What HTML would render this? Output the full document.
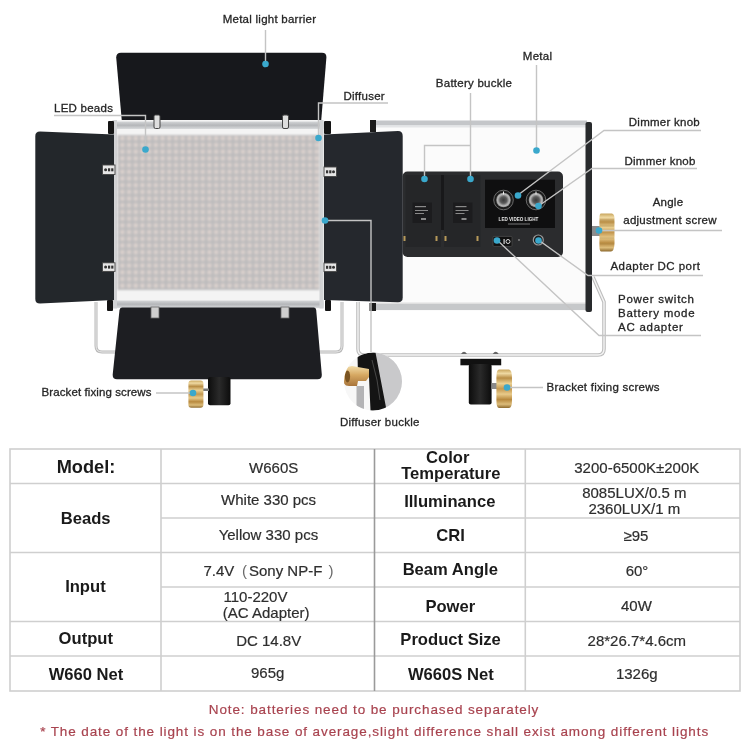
<!DOCTYPE html>
<html><head><meta charset="utf-8">
<style>
html,body{margin:0;padding:0;background:#fff;}
body{width:750px;height:750px;overflow:hidden;position:relative;font-family:"Liberation Sans",sans-serif;}
svg{position:absolute;left:0;top:0;will-change:transform;}
.lb{font-family:"Liberation Sans",sans-serif;font-size:11.5px;letter-spacing:0.25px;fill:#262626;stroke:#262626;stroke-width:0.3px;}
.th{font-family:"Liberation Sans",sans-serif;font-size:16.6px;font-weight:bold;fill:#1a1a1a;}
.td{font-family:"Liberation Sans",sans-serif;font-size:15px;fill:#2e2e2e;stroke:#2e2e2e;stroke-width:0.2px;}
.nt{font-family:"Liberation Sans",sans-serif;font-size:13.5px;letter-spacing:0.9px;fill:#a8434f;stroke:#a8434f;stroke-width:0.2px;}
</style></head>
<body>
<svg width="750" height="750" viewBox="0 0 750 750">
<defs>
  <filter id="bl" x="-5%" y="-5%" width="110%" height="110%"><feGaussianBlur stdDeviation="0.9"/></filter>
  <pattern id="led" x="119" y="135" width="6.7" height="6.7" patternUnits="userSpaceOnUse">
    <rect width="6.7" height="6.7" fill="#bdbcbd"/>
    <circle cx="3.35" cy="3.35" r="2.3" fill="#dbd1cd"/>
  </pattern>
  <linearGradient id="silverH" x1="0" y1="0" x2="0" y2="1">
    <stop offset="0" stop-color="#d4d6d8"/><stop offset="0.5" stop-color="#b4b6b9"/><stop offset="1" stop-color="#d8dadc"/>
  </linearGradient>
  <linearGradient id="gold" x1="0" y1="0" x2="0" y2="1">
    <stop offset="0" stop-color="#c9a65e"/><stop offset="0.1" stop-color="#efd9a2"/><stop offset="0.22" stop-color="#b98e46"/><stop offset="0.36" stop-color="#ead092"/><stop offset="0.5" stop-color="#c49850"/><stop offset="0.64" stop-color="#e8ca8a"/><stop offset="0.78" stop-color="#b8893e"/><stop offset="0.9" stop-color="#dcbc7a"/><stop offset="1" stop-color="#8e6a2e"/>
  </linearGradient>
  <linearGradient id="cyl" x1="0" y1="0" x2="1" y2="0">
    <stop offset="0" stop-color="#0c0c0c"/><stop offset="0.5" stop-color="#2a2a2a"/><stop offset="1" stop-color="#0c0c0c"/>
  </linearGradient>
  <radialGradient id="knob" cx="0.5" cy="0.5" r="0.5">
    <stop offset="0" stop-color="#3a3a3a"/><stop offset="0.45" stop-color="#5a5a5a"/><stop offset="0.8" stop-color="#b8b8b8"/><stop offset="1" stop-color="#8a8a8a"/>
  </radialGradient>
  <linearGradient id="gold2" x1="0" y1="0" x2="0" y2="1">
    <stop offset="0" stop-color="#f2dca8"/><stop offset="0.45" stop-color="#d6a862"/><stop offset="1" stop-color="#a8743a"/>
  </linearGradient>
</defs>

<!-- ============ BACK PANEL (right) ============ -->
<g id="back">
  <!-- bracket back -->
  <path d="M358,302 L358,349 Q358,355 364,355 L598,355 Q604,355 604,349 L604,302 L593,277" fill="none" stroke="#bdbdbd" stroke-width="3.6"/>
  <path d="M358,302 L358,349 Q358,355 364,355 L598,355 Q604,355 604,349 L604,302 L593,277" fill="none" stroke="#f4f4f4" stroke-width="1.4"/>
  <!-- body -->
  <rect x="371" y="121" width="218" height="190" fill="#fbfbfb"/>
  <rect x="371" y="120.5" width="216" height="5" fill="#c4c6c9"/>
  <rect x="371" y="125.5" width="216" height="2" fill="#e4e5e7"/>
  <rect x="371" y="304" width="216" height="6" fill="#c6c8ca"/>
  <rect x="371" y="302.5" width="216" height="1.5" fill="#e0e0e0"/>
  <rect x="370" y="120" width="6" height="12" fill="#1a1a1a"/>
  <rect x="369.5" y="303" width="6.5" height="8" fill="#1a1a1a"/>
  <rect x="585.5" y="122" width="6.5" height="190" rx="2" fill="#282a2c"/>
  <!-- control panel -->
  <rect x="402.5" y="171.5" width="160.5" height="85.5" rx="5" fill="#2b2c2e"/>
  <rect x="405.5" y="175" width="35.5" height="72" fill="#252628"/>
  <rect x="444" y="175" width="36.5" height="72" fill="#252628"/>
  <rect x="441" y="175" width="3" height="55" fill="#18181a"/>
  <rect x="412.5" y="202.5" width="19.5" height="20.5" fill="#1c1c1e"/>
  <rect x="453" y="202.5" width="19.5" height="20.5" fill="#1c1c1e"/>
  <g fill="#8a8a8a"><rect x="415" y="206" width="11" height="1.2"/><rect x="415" y="210" width="13" height="1"/><rect x="415" y="213" width="9" height="1"/><rect x="421" y="218" width="5" height="2"/>
  <rect x="455.5" y="206" width="11" height="1.2"/><rect x="455.5" y="210" width="13" height="1"/><rect x="455.5" y="213" width="9" height="1"/><rect x="461.5" y="218" width="5" height="2"/></g>
  <g fill="#b89a5a"><rect x="403.5" y="236" width="2" height="5"/><rect x="435.5" y="236" width="2" height="5"/><rect x="444.5" y="236" width="2" height="5"/><rect x="476.5" y="236" width="2" height="5"/></g>
  <rect x="485" y="179.7" width="70" height="48.3" fill="#0f0f10"/>
  <circle cx="503.5" cy="200" r="9.8" fill="#1c1c1c" stroke="#6a6a6a" stroke-width="1"/>
  <circle cx="503.5" cy="200" r="7.3" fill="url(#knob)"/>
  <rect x="503" y="191.5" width="1" height="3" fill="#eee"/>
  <circle cx="536" cy="200" r="9.8" fill="#1c1c1c" stroke="#6a6a6a" stroke-width="1"/>
  <circle cx="536" cy="200" r="7.3" fill="url(#knob)"/>
  <rect x="535.5" y="191.5" width="1" height="3" fill="#eee"/>
  <text x="518.5" y="221" font-size="4.6" font-weight="bold" fill="#e6e6e6" text-anchor="middle" font-family="Liberation Sans">LED VIDEO LIGHT</text>
  <rect x="508" y="223.5" width="22" height="1" fill="#777"/>
  <rect x="493" y="236.4" width="19" height="10" rx="1" fill="#101010" stroke="#4a4a4a" stroke-width="0.8"/>
  <rect x="503.5" y="239" width="1.2" height="5" fill="#d8d8d8"/>
  <circle cx="508" cy="241.5" r="2" fill="none" stroke="#d8d8d8" stroke-width="1"/>
  <circle cx="519" cy="240" r="0.9" fill="#888"/>
  <circle cx="538.3" cy="240" r="5" fill="#1a1a1a" stroke="#9a9a9a" stroke-width="1.2"/>
  <!-- angle knob -->
  <rect x="592" y="226" width="8" height="10" fill="#8c8c8c"/>
  <path d="M601,213.6 L612,213.6 Q615,214 614.5,222 L614.5,244 Q614,251.4 611,251.4 L601,251.4 Q599.4,251 599.4,246 L599.4,219 Q599.4,213.6 601,213.6 Z" fill="url(#gold)"/>
  <g stroke="#a58546" stroke-width="0.6" opacity="0.7"><path d="M600,220 L614,220 M600,226 L614,226 M600,238 L614,238 M600,244 L614,244"/></g>
  <!-- mount -->
  <path d="M461,354 Q464,349.5 467,354 Z" fill="#666"/>
  <path d="M492.7,354 Q495.7,349.5 498.7,354 Z" fill="#666"/>
  <rect x="460.4" y="358.8" width="40.8" height="6.5" fill="#111"/>
  <rect x="468.8" y="364" width="22.8" height="40.4" rx="2" fill="url(#cyl)"/>
  <rect x="491.5" y="383" width="6" height="6" fill="#8a8a8a"/>
  <path d="M499,369.6 L509,369.6 Q512,370 512,378 L512,400 Q512,408 509,408 L499,408 Q496.4,408 496.4,400 L496.4,378 Q496.4,369.6 499,369.6 Z" fill="url(#gold)"/>
</g>

<!-- ============ FRONT PANEL (left) ============ -->
<g id="front">
  <!-- bracket front -->
  <path d="M96,302 L96,346 Q96,352 102,352 L336,352 Q342,352 342,346 L342,302" fill="none" stroke="#b8b8b8" stroke-width="3"/>
  <path d="M96,302 L96,346 Q96,352 102,352 L336,352 Q342,352 342,346 L342,302" fill="none" stroke="#ededed" stroke-width="1"/>
  <!-- top barn door -->
  <path d="M116.2,57.5 Q116.2,52.7 121,52.7 L322,52.7 Q326.6,52.7 326.4,57.5 L321,123 L122,123 Z" fill="#17181c"/>
  <!-- frame -->
  <rect x="112.5" y="120" width="211" height="188.5" fill="#f4f4f4"/>
  <rect x="112.5" y="121.5" width="211" height="7.5" fill="url(#silverH)"/>
  <rect x="112.5" y="300.5" width="211" height="7.5" fill="url(#silverH)"/>
  <rect x="112.5" y="120" width="4.5" height="188.5" fill="#d2d3d5"/>
  <rect x="319.5" y="120" width="4" height="188.5" fill="#d2d3d5"/>
  <rect x="117.5" y="135" width="202" height="155" fill="url(#led)" filter="url(#bl)"/>
  <!-- knobs -->
  <rect x="108" y="121" width="6" height="13" rx="1" fill="#141414"/>
  <rect x="324" y="121" width="7" height="13" rx="1" fill="#141414"/>
  <rect x="107" y="300" width="6" height="11" rx="1" fill="#141414"/>
  <rect x="325" y="300" width="6" height="11" rx="1" fill="#141414"/>
  <!-- left barn door -->
  <path d="M40,131.5 L114,134.5 L114,300 L40,303.5 Q35.3,303.5 35.3,299 L35.3,136 Q35.3,131.5 40,131.5 Z" fill="#23272b"/>
  <!-- right barn door -->
  <path d="M324,134.5 L398,131 Q402.7,131 402.7,136 L402.7,297.5 Q402.7,302.3 398,302.3 L324,300 Z" fill="#25282d"/>
  <!-- bottom barn door -->
  <path d="M122,307.5 L314,307.5 Q316,307.5 316.2,310 L321.8,374.5 Q322,379.3 317.5,379.3 L117,379.3 Q112.5,379.3 112.7,374.5 L119.5,310 Q119.8,307.5 122,307.5 Z" fill="#1d1e22"/>
  <!-- hinges -->
  <rect x="154" y="115" width="6" height="13.5" rx="1.5" fill="#dedede" stroke="#444" stroke-width="1"/>
  <rect x="282.5" y="115" width="6" height="13.5" rx="1.5" fill="#dedede" stroke="#444" stroke-width="1"/>
  <g stroke="#444" stroke-width="0.9" fill="#e6e6e6">
    <rect x="102.5" y="165" width="12.5" height="9.5"/>
    <rect x="102.5" y="262.8" width="12.5" height="8.6"/>
    <rect x="324" y="167" width="12.5" height="9.5"/>
    <rect x="324" y="263" width="12.5" height="8.6"/>
  </g>
  <g fill="#333">
    <circle cx="105.6" cy="169.8" r="1.5"/><rect x="108" y="168.3" width="2.2" height="3"/><rect x="111.2" y="168.3" width="2.2" height="3"/>
    <circle cx="105.6" cy="267.1" r="1.5"/><rect x="108" y="265.6" width="2.2" height="3"/><rect x="111.2" y="265.6" width="2.2" height="3"/>
    <rect x="326" y="170.3" width="2.2" height="3"/><rect x="329.2" y="170.3" width="2.2" height="3"/><circle cx="333.5" cy="171.8" r="1.5"/>
    <rect x="326" y="265.8" width="2.2" height="3"/><rect x="329.2" y="265.8" width="2.2" height="3"/><circle cx="333.5" cy="267.3" r="1.5"/>
  </g>
  <rect x="151" y="307" width="8" height="11" fill="#cfcfcf" stroke="#666" stroke-width="0.8"/>
  <rect x="281" y="307" width="8" height="11" fill="#cfcfcf" stroke="#666" stroke-width="0.8"/>
  <!-- mount -->
  <rect x="208" y="377" width="22.5" height="28.3" rx="2" fill="url(#cyl)"/>
  <rect x="203" y="388.5" width="6" height="2.5" fill="#777"/>
  <rect x="188.4" y="380.4" width="15" height="27.4" rx="3" fill="url(#gold)"/>
</g>

<!-- ============ diffuser buckle inset ============ -->
<g id="inset">
  <clipPath id="circ"><circle cx="373" cy="381.5" r="29"/></clipPath>
  <g clip-path="url(#circ)">
    <rect x="340" y="350" width="70" height="65" fill="#f7f7f7"/>
    <path d="M372,350 L412,350 L412,415 L386,415 Z" fill="#c9c9cb"/>
    <rect x="356.5" y="386" width="7.5" height="28" fill="#b3b3b5"/>
    <path d="M357.5,355 L371,352.5 L375.5,352.5 L386.5,410 L370.5,411 L369,377 L358,377 Z" fill="#141414"/>
    <path d="M372,360 L377,380 L380,400" stroke="#555" stroke-width="0.8" fill="none"/>
    <path d="M346,368.5 Q342.5,371 342.7,378 Q343,386 349,386 L357,386 L358,381 L366,381 L369,377 L369,369 L352,366 Q348,366 346,368.5 Z" fill="url(#gold2)"/>
    <ellipse cx="347.5" cy="376.5" rx="2.6" ry="6" fill="#7a5422"/>
  </g>
</g>

<!-- ============ annotation lines ============ -->
<g fill="none" stroke="#c4c4c4" stroke-width="1.4">
  <path d="M265.5,30 L265.5,64"/>
  <path d="M54,115.5 L145.5,115.5 L145.5,149"/>
  <path d="M318.5,138 L318.5,103 L388,103"/>
  <path d="M325,220.5 L371,220.5 L371,352"/>
  <path d="M470.5,93 L470.5,179 M470.5,145.5 L424.5,145.5 L424.5,179"/>
  <path d="M536.5,65 L536.5,150"/>
  <path d="M518,195 L604,130.5 L701,130.5"/>
  <path d="M538.5,206 L592,168.5 L697,168.5"/>
  <path d="M599,230.5 L722,230.5"/>
  <path d="M538.5,240 L588,275.5 L703,275.5"/>
  <path d="M497,240 L599,335.5 L701,335.5"/>
  <path d="M156,393 L190,393"/>
  <path d="M507,387.5 L543,387.5"/>
</g>
<g fill="#3aa8cc">
  <circle cx="265.5" cy="64" r="3.3"/>
  <circle cx="145.5" cy="149.5" r="3.3"/>
  <circle cx="318.5" cy="138" r="3.3"/>
  <circle cx="325" cy="220.5" r="3.3"/>
  <circle cx="424.5" cy="179" r="3.3"/>
  <circle cx="470.5" cy="179" r="3.3"/>
  <circle cx="536.5" cy="150.5" r="3.3"/>
  <circle cx="518" cy="195.5" r="3.3"/>
  <circle cx="538.5" cy="206" r="3.3"/>
  <circle cx="599" cy="230.5" r="3.3"/>
  <circle cx="497" cy="240.5" r="3.3"/>
  <circle cx="538.5" cy="240.5" r="3.3"/>
  <circle cx="193" cy="393" r="3.3"/>
  <circle cx="507" cy="387.5" r="3.3"/>
</g>

<!-- ============ labels ============ -->
<g class="lb">
  <text x="269.5" y="22.5" text-anchor="middle">Metal light barrier</text>
  <text x="54" y="111.5">LED beads</text>
  <text x="343.5" y="100">Diffuser</text>
  <text x="474" y="87" text-anchor="middle">Battery buckle</text>
  <text x="537.5" y="60" text-anchor="middle">Metal</text>
  <text x="628.8" y="125.5">Dimmer knob</text>
  <text x="624.5" y="164.5">Dimmer knob</text>
  <text x="668" y="206" text-anchor="middle">Angle</text>
  <text x="670" y="223.5" text-anchor="middle">adjustment screw</text>
  <text x="610.5" y="269.5" style="letter-spacing:0.45px">Adapter DC port</text>
  <text x="618" y="302.5" style="letter-spacing:0.75px">Power switch</text>
  <text x="618" y="317" style="letter-spacing:0.75px">Battery mode</text>
  <text x="618" y="330.5" style="letter-spacing:0.75px">AC adapter</text>
  <text x="41.5" y="396.3" style="letter-spacing:0.1px">Bracket fixing screws</text>
  <text x="546.5" y="390.5">Bracket fixing screws</text>
  <text x="340" y="425.5">Diffuser buckle</text>
</g>

<!-- ============ table ============ -->
<g fill="none" stroke="#cfcfcf" stroke-width="1.6">
  <rect x="10" y="449" width="730" height="242"/>
  <path d="M161,449 L161,691"/>
  <path d="M525.3,449 L525.3,691"/>
  <path d="M10,483.5 L740,483.5"/>
  <path d="M161,518 L374.5,518"/>
  <path d="M10,552.5 L740,552.5"/>
  <path d="M161,587 L374.5,587"/>
  <path d="M374.5,518 L740,518"/>
  <path d="M374.5,587 L740,587"/>
  <path d="M10,621.5 L740,621.5"/>
  <path d="M10,656 L740,656"/>
</g>
<path d="M374.5,449 L374.5,691" stroke="#9a9a9a" stroke-width="1.6"/>

<g class="th" text-anchor="middle">
  <text x="86" y="473.3" style="font-size:18.2px">Model:</text>
  <text x="85.7" y="524">Beads</text>
  <text x="85.4" y="591.5">Input</text>
  <text x="85.8" y="644">Output</text>
  <text x="86" y="680">W660 Net</text>
  <text x="447.7" y="462.9">Color</text>
  <text x="450.8" y="479">Temperature</text>
  <text x="449.8" y="506.6">Illuminance</text>
  <text x="450.6" y="541.4">CRI</text>
  <text x="450.3" y="574.5">Beam Angle</text>
  <text x="450.3" y="611.5">Power</text>
  <text x="450.6" y="645">Product Size</text>
  <text x="450.8" y="679.7">W660S Net</text>
</g>
<g class="td" text-anchor="middle">
  <text x="273.7" y="472.8">W660S</text>
  <text x="268.6" y="505.4">White 330 pcs</text>
  <text x="268.4" y="539.8">Yellow 330 pcs</text>
  <text x="268.7" y="645.9">DC 14.8V</text>
  <text x="267.7" y="678.3">965g</text>
  <text x="636.8" y="472.8">3200-6500K±200K</text>
  <text x="634.3" y="498">8085LUX/0.5 m</text>
  <text x="634.3" y="514">2360LUX/1 m</text>
  <text x="636" y="541.4">≥95</text>
  <text x="637" y="575.8">60°</text>
  <text x="636.4" y="611">40W</text>
  <text x="636.8" y="645.7">28*26.7*4.6cm</text>
  <text x="636.8" y="679">1326g</text>
</g>
<g class="td">
  <text x="203.5" y="575.7">7.4V</text>
  <text x="242" y="575.7" style="fill:#6a6a6a;stroke:none">(</text>
  <text x="249" y="575.7">Sony NP-F</text>
  <text x="328.5" y="575.7" style="fill:#6a6a6a;stroke:none">)</text>
  <text x="223.5" y="602.3">110-220V</text>
  <text x="222.8" y="617.5">(AC Adapter)</text>
</g>

<g class="nt" text-anchor="middle">
  <text x="374" y="713.7">Note: batteries need to be purchased separately</text>
  <text x="374.6" y="736.3">* The date of the light is on the base of average,slight difference shall exist among different lights</text>
</g>
</svg>
</body></html>
